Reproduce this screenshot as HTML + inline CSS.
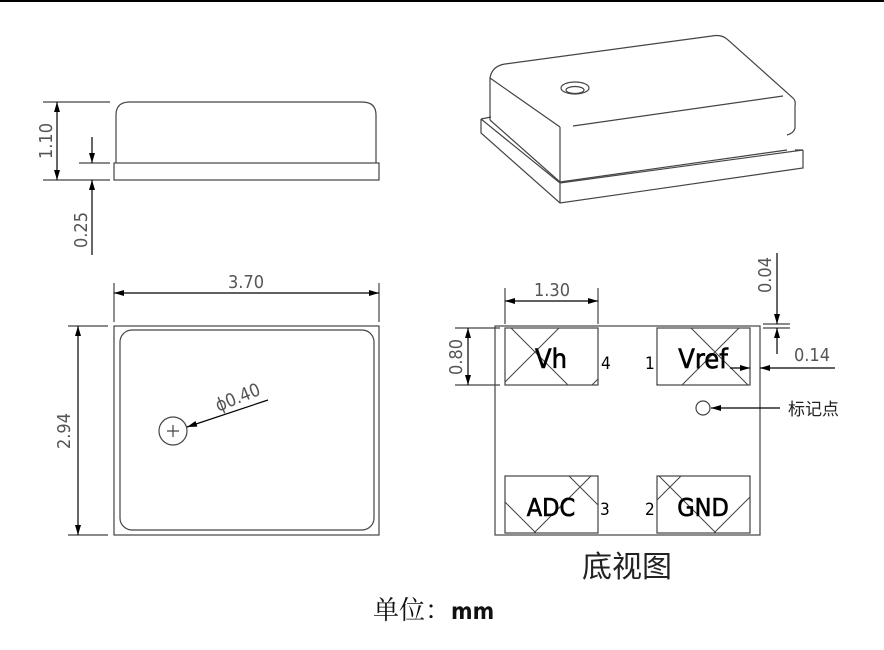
<!DOCTYPE html>
<html><head><meta charset="utf-8"><style>html,body{margin:0;padding:0;background:#fff}svg{display:block}</style></head>
<body>
<svg width="884" height="650" viewBox="0 0 884 650" xmlns="http://www.w3.org/2000/svg" font-family="Liberation Sans, 'Noto Sans CJK SC', sans-serif">
<defs>
<marker id="a" viewBox="0 0 10 6" refX="10" refY="3" markerWidth="10" markerHeight="6" orient="auto-start-reverse" markerUnits="userSpaceOnUse"><path d="M0,0L10,3L0,6z" fill="#000"/></marker>
<pattern id="h" patternUnits="userSpaceOnUse" width="90" height="90" x="-5" y="-8"><path d="M0,0L90,90M0,90L90,0" stroke="#444" stroke-width="1" fill="none"/></pattern>
</defs>
<rect x="0" y="0" width="884" height="2" fill="#000"/>
<g stroke="#444" stroke-width="1.2" fill="none">
<path d="M116,163V115Q116,102 130,102H362Q376,102 376,115V163"/>
<rect x="114" y="163" width="265" height="17"/>
<line x1="43" y1="102" x2="110" y2="102"/>
<line x1="43" y1="180" x2="110" y2="180"/>
<line x1="79" y1="163" x2="110" y2="163"/>
<line x1="57" y1="102" x2="57" y2="180" marker-start="url(#a)" marker-end="url(#a)" stroke="#000"/>
<line x1="92" y1="137" x2="92" y2="163" marker-end="url(#a)" stroke="#000"/>
<line x1="92" y1="255" x2="92" y2="180" marker-end="url(#a)" stroke="#000"/>
<path d="M481,119L560,183L803,150M481,119V133L560,203L803,168V150M560,183V203"/>
<path d="M481,119L491,117M795,150L803,150"/>
<path d="M490,120V78Q492,66 505,64L712,36Q722,34 728,40L793,98Q796,101 795,106V128Q794,133 787,135"/>
<path d="M490,120L560,182L787,150"/>
<path d="M560,127V182M490,78L560,127M573,126L783,96"/>
<ellipse cx="575" cy="88" rx="14" ry="6"/>
<ellipse cx="575" cy="90" rx="9" ry="3.5"/>
<rect x="114" y="326" width="265" height="209"/>
<rect x="120" y="330" width="254" height="200" rx="12"/>
<line x1="114" y1="283" x2="114" y2="322"/>
<line x1="379" y1="283" x2="379" y2="322"/>
<line x1="114" y1="293" x2="379" y2="293" marker-start="url(#a)" marker-end="url(#a)" stroke="#000"/>
<line x1="68" y1="326" x2="108" y2="326"/>
<line x1="68" y1="535" x2="108" y2="535"/>
<line x1="78" y1="326" x2="78" y2="535" marker-start="url(#a)" marker-end="url(#a)" stroke="#000"/>
<circle cx="173" cy="431" r="14"/>
<path d="M167,431h12M173,425v12"/>
<line x1="268" y1="400" x2="187" y2="427" marker-end="url(#a)" stroke="#000"/>
<rect x="495" y="326" width="265" height="209"/>
<rect x="505" y="328" width="93" height="57" fill="url(#h)"/>
<rect x="657" y="328" width="93" height="57" fill="url(#h)"/>
<rect x="505" y="476" width="93" height="57" fill="url(#h)"/>
<rect x="657" y="476" width="93" height="57" fill="url(#h)"/>
<line x1="505" y1="288" x2="505" y2="324"/>
<line x1="598" y1="288" x2="598" y2="324"/>
<line x1="505" y1="301" x2="598" y2="301" marker-start="url(#a)" marker-end="url(#a)" stroke="#000"/>
<line x1="455" y1="328" x2="500" y2="328"/>
<line x1="455" y1="385" x2="500" y2="385"/>
<line x1="468" y1="328" x2="468" y2="385" marker-start="url(#a)" marker-end="url(#a)" stroke="#000"/>
<line x1="763" y1="324" x2="790" y2="324"/>
<line x1="763" y1="328" x2="790" y2="328"/>
<line x1="777" y1="253" x2="777" y2="324" marker-end="url(#a)" stroke="#000"/>
<line x1="777" y1="354" x2="777" y2="328" marker-end="url(#a)" stroke="#000"/>
<line x1="730" y1="368" x2="750" y2="368" marker-end="url(#a)" stroke="#000"/>
<line x1="835" y1="368" x2="760" y2="368" marker-end="url(#a)" stroke="#000"/>
<circle cx="703" cy="408" r="7"/>
<line x1="780" y1="408" x2="711" y2="408" marker-end="url(#a)" stroke="#000"/>
</g>
<g fill="#555" font-size="18" font-family="DejaVu Sans Condensed, 'Liberation Sans', sans-serif" font-weight="300">
<text transform="translate(52,141) rotate(-90)" text-anchor="middle">1.10</text>
<text transform="translate(87,230) rotate(-90)" text-anchor="middle">0.25</text>
<text x="246" y="288" text-anchor="middle">3.70</text>
<text transform="translate(70,431) rotate(-90)" text-anchor="middle">2.94</text>
<text transform="translate(240,403) rotate(-22)" text-anchor="middle">ϕ0.40</text>
<text x="552" y="296" text-anchor="middle">1.30</text>
<text transform="translate(462,357) rotate(-90)" text-anchor="middle">0.80</text>
<text transform="translate(771,275) rotate(-90)" text-anchor="middle">0.04</text>
<text x="812" y="361" text-anchor="middle">0.14</text>
</g>
<text x="788" y="415" font-size="17" fill="#222" font-family="'Noto Sans CJK SC', sans-serif">标记点</text>
<g fill="#000" stroke="#000" stroke-width="0.6" font-family="DejaVu Sans Condensed, 'Liberation Sans', sans-serif">
<text x="551" y="368" font-size="27" text-anchor="middle">Vh</text>
<text x="703" y="368" font-size="27" text-anchor="middle">Vref</text>
<text x="551" y="516" font-size="25" text-anchor="middle">ADC</text>
<text x="703" y="516" font-size="25" text-anchor="middle">GND</text>
</g>
<g fill="#000" font-family="DejaVu Sans Condensed, 'Liberation Sans', sans-serif">
<text x="601" y="369" font-size="17">4</text>
<text x="645" y="369" font-size="17">1</text>
<text x="600" y="515" font-size="17">3</text>
<text x="645" y="515" font-size="17">2</text>
</g>
<text x="627" y="577" font-size="30" text-anchor="middle" fill="#222" font-family="'Noto Sans CJK SC', sans-serif">底视图</text>
<text x="373" y="619" font-size="26" fill="#111" font-family="'Noto Serif CJK SC', serif">单位：<tspan font-family="DejaVu Sans Condensed, sans-serif" font-weight="bold" font-size="23">mm</tspan></text>
</svg>
</body></html>
